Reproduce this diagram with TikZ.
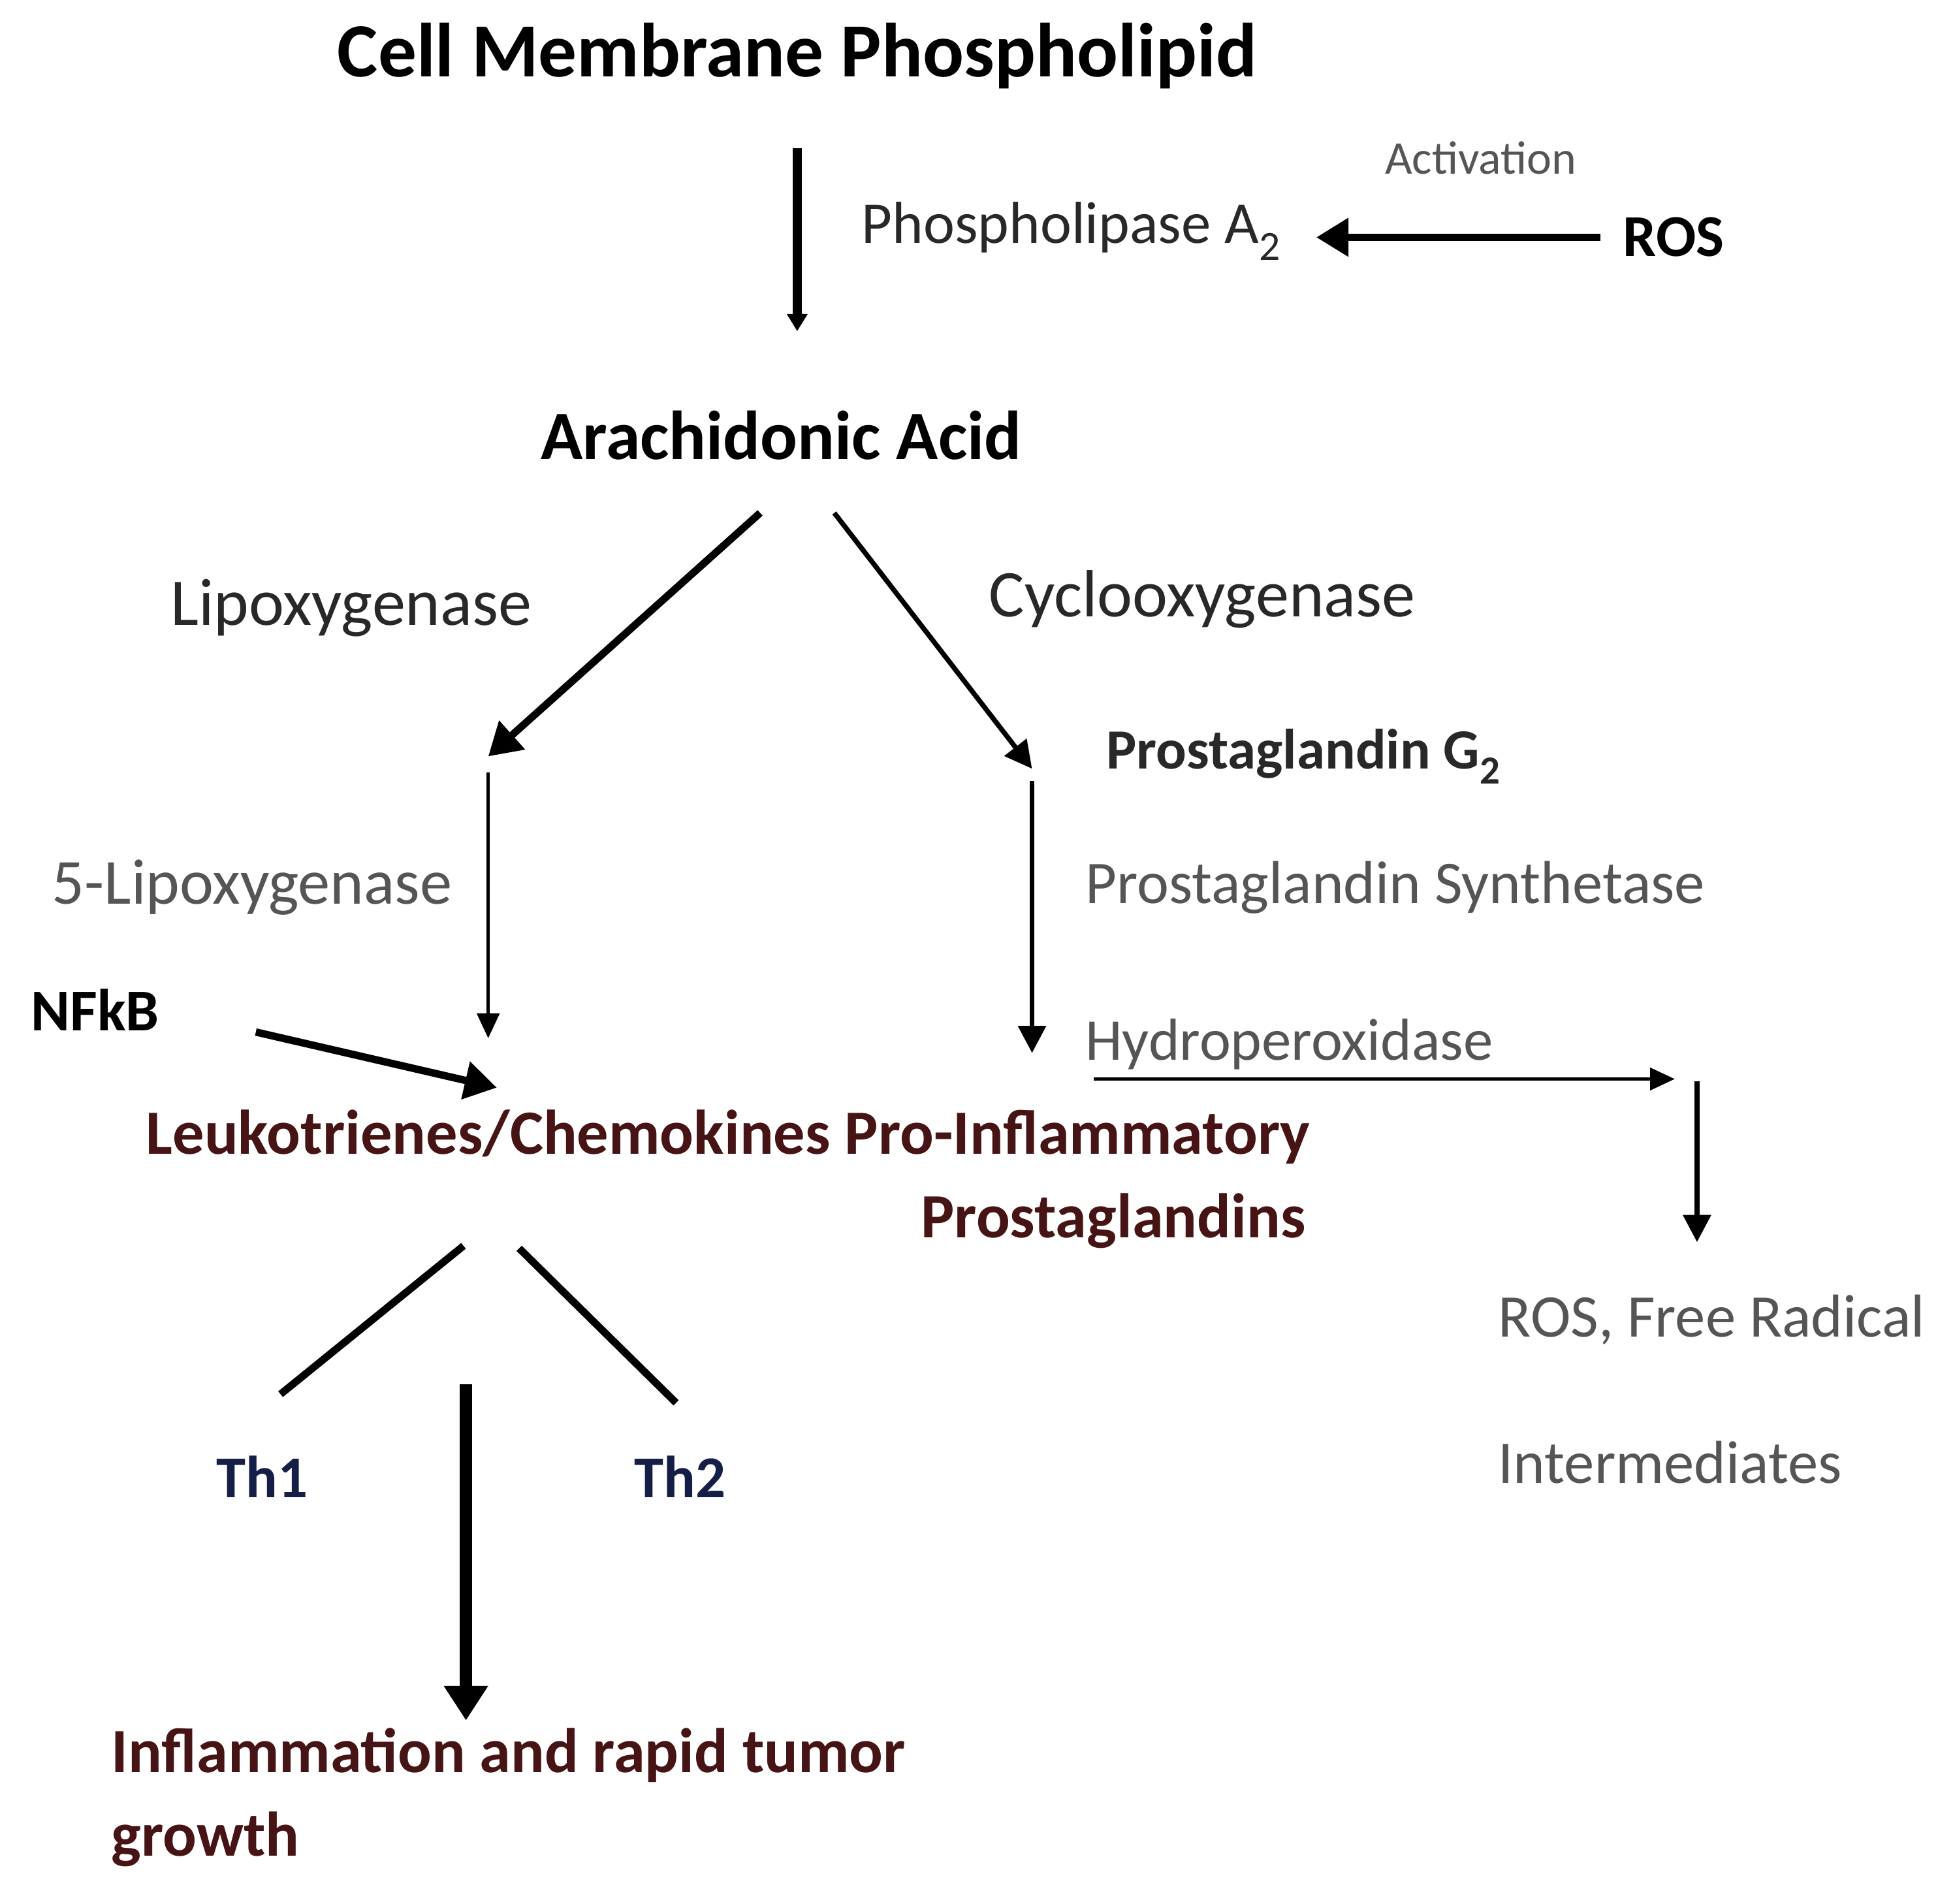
\documentclass[tikz,border=0pt]{standalone}
\usepackage{fontspec}
\setmainfont{Carlito}
\usetikzlibrary{arrows.meta}
\definecolor{gtx}{RGB}{85,85,85}
\definecolor{dtx}{RGB}{40,40,40}
\definecolor{rtx}{RGB}{70,20,20}
\definecolor{btx}{RGB}{20,30,70}
\begin{document}
\begin{tikzpicture}[x=1pt,y=-1pt,
  t/.style={anchor=west,inner sep=0pt,font=\fontsize{48}{54}\selectfont},
  tb/.style={t,font=\fontsize{48}{54}\selectfont\bfseries},
  thick1/.style={line width=6pt,-{Triangle[length=26pt,width=30pt]}},
  med/.style={line width=4pt,-{Triangle[length=22pt,width=22pt]}},
  thin1/.style={line width=2.5pt,-{Triangle[length=20pt,width=18pt]}}]
\useasboundingbox (0,0) rectangle (1568,1540);
\node[tb,anchor=center,font=\fontsize{62}{68}\selectfont\bfseries] (cm) at (645,45) {Cell Membrane Phospholipid};
\node[t,dtx] (pla) at (697,187) {Phospholipase A\textsubscript{2}};
\node[t,anchor=center,gtx,font=\fontsize{38}{42}\selectfont] (act) at (1198,128) {Activation};
\node[tb] (ros) at (1313,192) {ROS};
\node[tb,anchor=center,font=\fontsize{56}{62}\selectfont\bfseries] (aa) at (632,352) {Arachidonic Acid};
\node[t,dtx,font=\fontsize{54}{60}\selectfont] (lox) at (138,492) {Lipoxygenase};
\node[t,dtx,font=\fontsize{54}{60}\selectfont] (cox) at (800,485) {Cyclooxygenase};
\node[tb,dtx,font=\fontsize{46}{52}\selectfont\bfseries] (pg2) at (895,612) {Prostaglandin G\textsubscript{2}};
\node[t,gtx,font=\fontsize{52}{58}\selectfont] (lox5) at (42,718) {5-Lipoxygenase};
\node[t,gtx,font=\fontsize{49}{54}\selectfont] (pgs) at (878,718) {Prostaglandin Synthetase};
\node[tb] (nfkb) at (25,817) {NFkB};
\node[t,gtx] (hpx) at (878,845) {Hydroperoxidase};
\node[tb,rtx,font=\fontsize{51}{56}\selectfont\bfseries] (leu) at (118,920) {Leukotrienes/Chemokines Pro-Inflammatory};
\node[tb,rtx,font=\fontsize{51}{56}\selectfont\bfseries] (pgs2) at (745,988) {Prostaglandins};
\node[t,gtx,font=\fontsize{49}{54}\selectfont] (rfr) at (1212,1068) {ROS, Free Radical};
\node[t,gtx,font=\fontsize{49}{54}\selectfont] (int) at (1212,1183) {Intermediates};
\node[tb,btx] (th1) at (175,1195) {Th1};
\node[tb,btx] (th2) at (513,1195) {Th2};
\node[tb,rtx,font=\fontsize{51}{56}\selectfont\bfseries] (inf) at (90,1420) {Inflammation and rapid tumor};
\node[tb,rtx,font=\fontsize{51}{56}\selectfont\bfseries] (gro) at (90,1488) {growth};
\coordinate (a1) at (645,120); \coordinate (a2) at (645,268);
\coordinate (r1) at (1295,192); \coordinate (r2) at (1065,192);
\coordinate (l1) at (615,415); \coordinate (l2) at (395,612);
\coordinate (c1) at (675,415); \coordinate (c2) at (835,622);
\coordinate (v1) at (395,625); \coordinate (v2) at (395,840);
\coordinate (w1) at (835,632); \coordinate (w2) at (835,852);
\coordinate (n1) at (207,835); \coordinate (n2) at (402,880);
\coordinate (h1) at (885,873); \coordinate (h2) at (1355,873);
\coordinate (d1) at (1373,875); \coordinate (d2) at (1373,1005);
\coordinate (s1) at (375,1008); \coordinate (s2) at (227,1128);
\coordinate (u1) at (420,1010); \coordinate (u2) at (547,1135);
\coordinate (b1) at (377,1120); \coordinate (b2) at (377,1392);
\draw[line width=7pt,-{Triangle[length=14pt,width=16pt]}] (a1) -- (a2);
\draw[thick1] (r1) -- (r2);
\draw[thick1] (l1) -- (l2);
\draw[med] (c1) -- (c2);
\draw[thin1] (v1) -- (v2);
\draw[med] (w1) -- (w2);
\draw[thick1] (n1) -- (n2);
\draw[thin1] (h1) -- (h2);
\draw[med] (d1) -- (d2);
\draw[line width=6pt] (s1) -- (s2);
\draw[line width=6pt] (u1) -- (u2);
\draw[line width=10pt,-{Triangle[length=28pt,width=34pt]}] (b1) -- (b2);
\end{tikzpicture}
\end{document}
